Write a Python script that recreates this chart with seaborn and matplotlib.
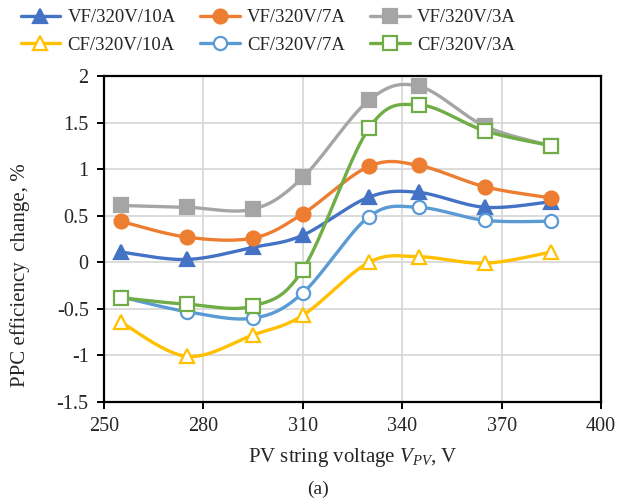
import numpy as np
import pandas as pd
import matplotlib
matplotlib.use("Agg")
import matplotlib.pyplot as plt
from matplotlib.lines import Line2D
import seaborn as sns

# ---- data ----
voltage = [255, 275, 295, 310, 330, 345, 365, 385]
vf_10a = [0.11, 0.03, 0.16, 0.29, 0.70, 0.75, 0.59, 0.65]
vf_7a = [0.44, 0.27, 0.26, 0.52, 1.03, 1.04, 0.81, 0.69]
vf_3a = [0.61, 0.59, 0.57, 0.91, 1.74, 1.89, 1.46, 1.25]
cf_10a = [-0.64, -1.01, -0.78, -0.57, 0.00, 0.06, -0.01, 0.11]
cf_7a = [-0.37, -0.53, -0.60, -0.33, 0.49, 0.59, 0.45, 0.44]
cf_3a = [-0.38, -0.45, -0.47, -0.08, 1.44, 1.69, 1.41, 1.25]
series_names = ["VF/320V/10A", "VF/320V/7A", "VF/320V/3A",
                "CF/320V/10A", "CF/320V/7A", "CF/320V/3A"]
x_ticks = [250, 280, 310, 340, 370, 400]
y_ticks = [-1.5, -1, -0.5, 0, 0.5, 1, 1.5, 2]
y_tick_labels = ["-1.5", "-1", "-0.5", "0", "0.5", "1", "1.5", "2"]

series_values = [vf_10a, vf_7a, vf_3a, cf_10a, cf_7a, cf_3a]
colors = ["#4472C4", "#ED7D31", "#A5A5A5", "#FFC000", "#5B9BD5", "#70AD47"]
markers = ["^", "o", "s", "^", "o", "s"]
filled = [True, True, True, False, False, False]

sns.set_theme(style="white")
plt.rcParams["font.family"] = ["Liberation Serif", "DejaVu Serif"]
plt.rcParams["axes.unicode_minus"] = False
plt.rcParams["mathtext.fontset"] = "custom"
plt.rcParams["mathtext.rm"] = "Liberation Serif"
plt.rcParams["mathtext.it"] = "Liberation Serif:italic"


def smooth(xs, ys, n=40):
    """Excel-like smoothed line (Catmull-Rom via cubic Bezier)."""
    P = np.column_stack([xs, ys]).astype(float)
    m = len(P)
    out = []
    for i in range(m - 1):
        p0 = P[max(i - 1, 0)]
        p1 = P[i]
        p2 = P[i + 1]
        p3 = P[min(i + 2, m - 1)]
        c1 = p1 + (p2 - p0) / 6.0
        c2 = p2 - (p3 - p1) / 6.0
        t = np.linspace(0, 1, n, endpoint=(i == m - 2))[:, None]
        seg = ((1 - t) ** 3) * p1 + 3 * ((1 - t) ** 2) * t * c1 + 3 * (1 - t) * t ** 2 * c2 + t ** 3 * p2
        out.append(seg)
    out = np.vstack(out)
    return out[:, 0], out[:, 1]


fig = plt.figure(figsize=(6.3, 5.03), dpi=100)
ax = fig.add_axes([0.165, 0.2008, 0.789, 0.6482])

handles = {}
for name, vals, c, mk, fl in zip(series_names, series_values, colors, markers, filled):
    sx, sy = smooth(voltage, vals)
    df_line = pd.DataFrame({"x": sx, "y": sy})
    sns.lineplot(data=df_line, x="x", y="y", ax=ax, color=c, lw=2.4,
                 sort=False, estimator=None, legend=False, zorder=3)
    df_pts = pd.DataFrame({"x": voltage, "y": vals})
    ms = 10 if fl else 9.5
    ax.plot(df_pts["x"], df_pts["y"], linestyle="none", marker=mk,
            markersize=ms, markerfacecolor=c if fl else "white",
            markeredgecolor=c, markeredgewidth=1.6, zorder=4)
    handles[name] = Line2D([0], [0], color=c, lw=2.4, marker=mk,
                           markersize=ms,
                           markerfacecolor=c if fl else "white",
                           markeredgecolor=c, markeredgewidth=1.6)

ax.set_xlim(250, 400)
ax.set_ylim(-1.5, 2)
ax.set_xticks(x_ticks)
ax.set_yticks(y_ticks)
ax.set_yticklabels(y_tick_labels)
ax.grid(True, color="#D9D9D9", lw=1.3)
ax.set_axisbelow(True)
for s in ax.spines.values():
    s.set_visible(True)
    s.set_color("black")
    s.set_linewidth(1.6)
ax.tick_params(axis="both", which="major", direction="out", length=5, width=1.4,
               color="black", labelsize=14.5, pad=6, bottom=True, left=True)
ax.set_xlabel("PV string voltage $V_{PV}$, V", fontsize=15, labelpad=7)
ax.set_ylabel("PPC efficiency  change, %", fontsize=15)
ax.yaxis.set_label_coords(-0.148, 0.39)

order = ["VF/320V/10A", "CF/320V/10A", "VF/320V/7A", "CF/320V/7A",
         "VF/320V/3A", "CF/320V/3A"]
fig.legend([handles[k] for k in order], order, ncol=3, loc="upper left",
           bbox_to_anchor=(0.015, 1.004), frameon=False, fontsize=13.5,
           handlelength=2.1, handletextpad=0.4, columnspacing=1.3,
           labelspacing=0.55, borderaxespad=0.2)

fig.text(0.505, 0.027, "(a)", ha="center", va="center", fontsize=14)

fig.savefig("out.png", dpi=100)
